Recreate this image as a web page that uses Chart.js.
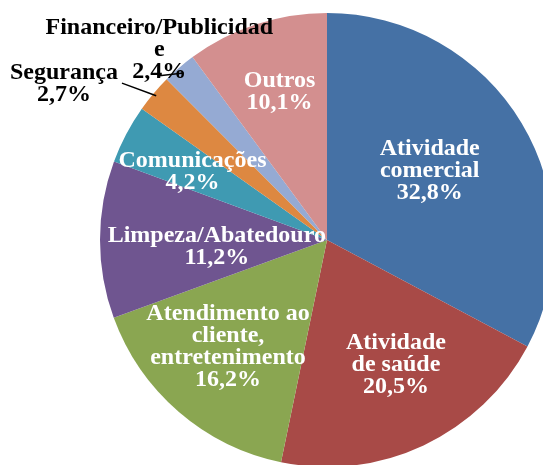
<!DOCTYPE html>
<html>
<head>
<meta charset="utf-8">
<script src="https://cdn.jsdelivr.net/npm/chart.js@4.4.0/dist/chart.umd.min.js"></script>
<style>
  html, body { margin: 0; padding: 0; background: #fff; overflow: hidden; }
  #wrap { position: absolute; left: 0; top: 0; width: 654px; height: 480px; }
</style>
</head>
<body>
<div id="wrap"><canvas id="pieChart" width="654" height="480"></canvas></div>
<script>
// Sector data (clockwise from 12 o'clock)
const categories = ["Atividade comercial", "Atividade de saúde", "Atendimento ao cliente, entretenimento",
    "Limpeza/Abatedouro", "Comunicações", "Segurança", "Financeiro/Publicidade", "Outros"];
const shares = [32.8, 20.5, 16.2, 11.2, 4.2, 2.7, 2.4, 10.1];
const labelLines = [
    ["Atividade", "comercial", "32,8%"],
    ["Atividade", "de saúde", "20,5%"],
    ["Atendimento ao", "cliente,", "entretenimento", "16,2%"],
    ["Limpeza/Abatedouro", "11,2%"],
    ["Comunicações", "4,2%"],
    ["Segurança", "2,7%"],
    ["Financeiro/Publicidad", "e", "2,4%"],
    ["Outros", "10,1%"]
];
const sliceColors = ['#4571A5', '#A84A47', '#8AA651', '#6F5590', '#3F9AB2', '#DD8841', '#95AAD3', '#D38F8F'];

// label placement: offset from a point at 0.6 radius on the slice's mid angle
const labelOffsets = [[-14, 1], [11, 2], [-10, 4], [26, 7], [-14, -5], [-159, -68], [-79, -87], [-5, -19]];
const labelColors = ['#fff', '#fff', '#fff', '#fff', '#fff', '#000', '#000', '#fff'];
// leader lines: start offset from label centre, end radius fraction
const leaders = { 5: { from: [58, -1], r: 0.985 }, 6: { from: [0, 26], r: 0.97 } };

const pieLabels = {
    id: 'pieLabels',
    afterDatasetsDraw(chart) {
        const ctx = chart.ctx;
        const arcs = chart.getDatasetMeta(0).data;
        const lineH = 22;
        ctx.save();
        ctx.font = 'bold 24px "Liberation Serif"';
        ctx.textAlign = 'center';
        ctx.textBaseline = 'middle';
        arcs.forEach((arc, i) => {
            const mid = (arc.startAngle + arc.endAngle) / 2;
            const r = arc.outerRadius;
            const cx = arc.x + Math.cos(mid) * r * 0.6 + labelOffsets[i][0];
            const cy = arc.y + Math.sin(mid) * r * 0.6 + labelOffsets[i][1];
            const lines = labelLines[i];
            const top = cy - (lines.length - 1) * lineH / 2;
            ctx.fillStyle = labelColors[i];
            lines.forEach((t, k) => ctx.fillText(t, cx, top + k * lineH));

            const ld = leaders[i];
            if (ld) {
                ctx.strokeStyle = '#000';
                ctx.lineWidth = 1.5;
                ctx.beginPath();
                ctx.moveTo(cx + ld.from[0], cy + ld.from[1]);
                ctx.lineTo(arc.x + Math.cos(mid) * r * ld.r, arc.y + Math.sin(mid) * r * ld.r);
                ctx.stroke();
            }
        });
        ctx.restore();
    }
};

const ctxPie = document.getElementById('pieChart').getContext('2d');
new Chart(ctxPie, {
    type: 'pie',
    data: {
        labels: categories,
        datasets: [{
            data: shares,
            backgroundColor: sliceColors,
            borderWidth: 0,
            radius: 227
        }]
    },
    options: {
        responsive: false,
        animation: false,
        layout: { padding: 0 },
        plugins: {
            legend: { display: false },
            tooltip: { enabled: false }
        }
    },
    plugins: [pieLabels]
});
</script>
</body>
</html>
